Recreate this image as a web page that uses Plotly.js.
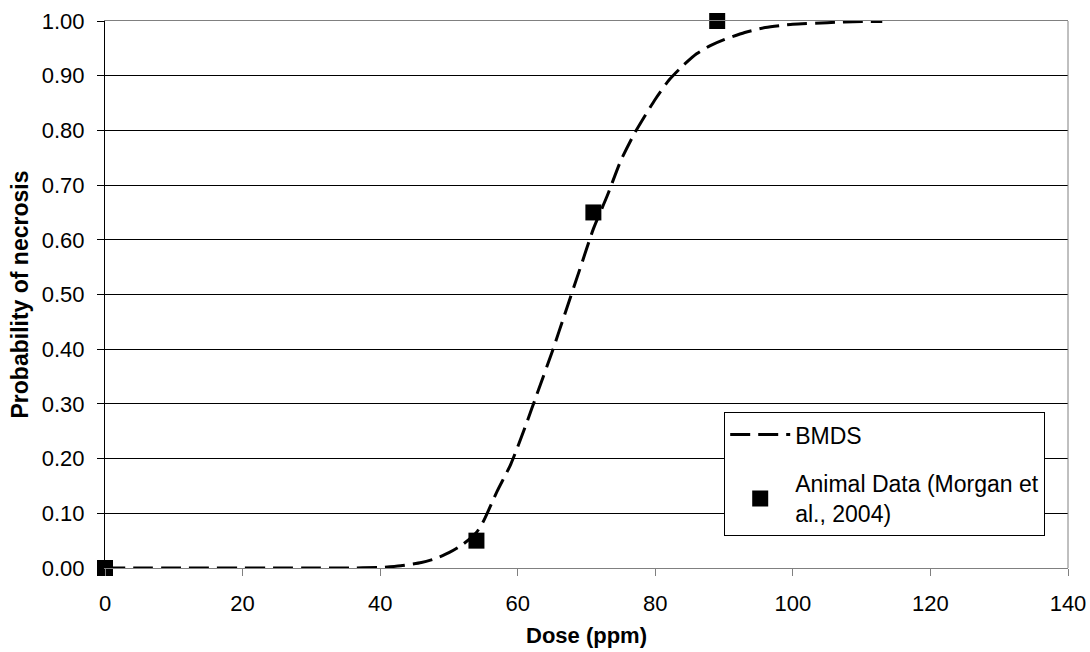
<!DOCTYPE html>
<html>
<head>
<meta charset="utf-8">
<script src="https://cdn.plot.ly/plotly-3.0.1.min.js"></script>
<style>html,body{margin:0;padding:0;background:#fff;}#chart{width:1090px;height:652px;}</style>
</head>
<body>
<div id="chart"></div>
<script>
// BMDS fitted curve
var curveDose = [0, 5, 10, 15, 20, 25, 30, 35, 40, 43, 46, 48, 50, 52, 54, 55, 57, 59, 61, 63, 65, 67, 69, 71, 73, 75, 77, 80, 82, 84, 86, 88, 90, 93, 96, 100, 105, 110, 113];
var curveProb = [0, 0, 0, 0, 0, 0, 0, 0, 0.001, 0.004, 0.01, 0.017, 0.028, 0.043, 0.065, 0.085, 0.14, 0.19, 0.255, 0.325, 0.395, 0.47, 0.545, 0.62, 0.68, 0.745, 0.795, 0.857, 0.892, 0.918, 0.94, 0.955, 0.966, 0.979, 0.988, 0.994, 0.997, 0.999, 0.999];

// Animal data (Morgan et al., 2004)
var dataDose = [0, 54, 71, 89];
var dataProb = [0, 0.05, 0.65, 1.0];

var xTicks = [0, 20, 40, 60, 80, 100, 120, 140];
var yTicks = [0, 0.1, 0.2, 0.3, 0.4, 0.5, 0.6, 0.7, 0.8, 0.9, 1.0];

var fontFam = 'Liberation Sans, Arial, sans-serif';
var fs = 22;

var traces = [
  {
    x: curveDose, y: curveProb, type: 'scatter', mode: 'lines', name: 'BMDS',
    legendgroup: 'a',
    line: {color: '#000', width: 3, dash: '20px,8px', shape: 'spline', smoothing: 0.6}
  },
  {
    x: dataDose, y: dataProb, type: 'scatter', mode: 'markers',
    name: 'Animal Data (Morgan et<br>al., 2004)',
    legendgroup: 'b', cliponaxis: false,
    marker: {symbol: 'square', size: 16, color: '#000'}
  }
];

var layout = {
  width: 1090, height: 652,
  margin: {l: 105, r: 22, t: 21, b: 84},
  paper_bgcolor: '#fff', plot_bgcolor: '#fff',
  font: {family: fontFam, size: fs, color: '#000'},
  showlegend: true,
  legend: {
    x: 0.643, y: 0.285, xanchor: 'left', yanchor: 'top',
    bgcolor: '#fff', bordercolor: '#000', borderwidth: 1,
    font: {family: fontFam, size: 23, color: '#000'},
    traceorder: 'grouped', tracegroupgap: 16,
    itemwidth: 60
  },
  xaxis: {
    range: [0, 140], tickvals: xTicks, ticktext: xTicks.map(String),
    showgrid: false, zeroline: false,
    showline: true, linecolor: '#808080', linewidth: 1, mirror: true,
    ticks: 'outside', ticklen: 7, tickcolor: '#808080', tickwidth: 1,
    ticklabelstandoff: 9,
    tickfont: {family: fontFam, size: fs, color: '#000'},
    title: {text: '<b>Dose (ppm)</b>', font: {family: fontFam, size: fs, color: '#000'}, standoff: 12}
  },
  yaxis: {
    range: [0, 1.0], tickvals: yTicks, ticktext: yTicks.map(function(v){return v.toFixed(2);}),
    showgrid: true, gridcolor: '#000', gridwidth: 1, zeroline: false,
    showline: true, linecolor: '#000', linewidth: 1,
    ticks: 'outside', ticklen: 7, tickcolor: '#000', tickwidth: 1,
    ticklabelstandoff: 8,
    tickfont: {family: fontFam, size: fs, color: '#000'},
    title: {text: '<b>Probability of necrosis</b>', font: {family: fontFam, size: 23, color: '#000'}, standoff: 6}
  },
  shapes: [
    {type: 'line', xref: 'paper', yref: 'paper', x0: 1, x1: 1, y0: 0, y1: 1, line: {color: '#808080', width: 1}}
  ]
};

Plotly.newPlot('chart', traces, layout, {displayModeBar: false, staticPlot: true});
</script>
</body>
</html>
